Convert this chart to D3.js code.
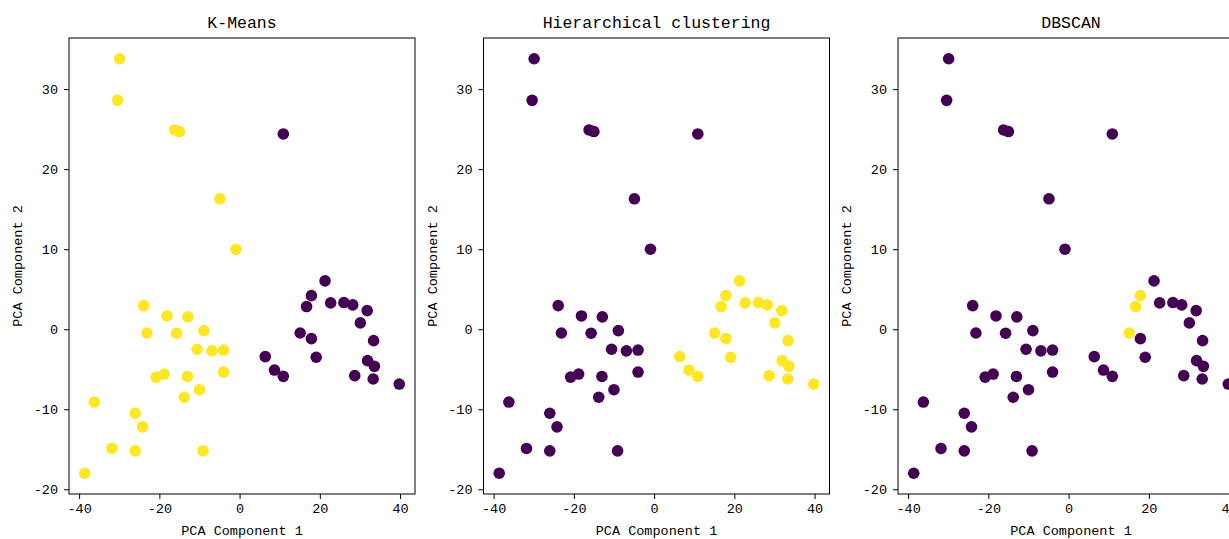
<!DOCTYPE html>
<html>
<head>
<meta charset="utf-8">
<script src="https://cdn.jsdelivr.net/npm/d3@7"></script>
<style>
  body { margin: 0; background: #fff; }
  text { font-family: "Liberation Mono", "DejaVu Sans Mono", monospace; fill: #000; }
</style>
</head>
<body>
<div id="chart"></div>
<script>
// PCA coordinates
const pcaX = [
    -29.9, -30.4, -16.2, -15.0, 10.9, -4.9, -0.9,
    -23.9, -18.1, -12.9, -23.1, -15.7, -8.9, -10.6, -6.9, -4.0, -4.0, -20.8,
    -18.8, -13.0, -10.0, -13.8, -36.2, -26.0, -24.2, -31.8, -26.0, -9.1, -38.6,
    21.3, 17.9, 16.7, 22.7, 26.0, 28.2, 31.8, 30.1, 15.1, 17.9,
    33.4, 6.4, 19.1, 31.9, 33.6, 8.7, 10.9, 28.7, 33.3, 39.8
];
const pcaY = [
    33.8, 28.6, 24.9, 24.7, 24.4, 16.3, 10.0,
    2.95, 1.66, 1.54, -0.47, -0.5, -0.17, -2.5, -2.7, -2.6, -5.35, -5.98,
    -5.6, -5.9, -7.56, -8.5, -9.1, -10.5, -12.2, -14.9, -15.2, -15.2, -18.0,
    6.04, 4.2, 2.83, 3.29, 3.33, 3.04, 2.33, 0.79, -0.47, -1.18,
    -1.43, -3.43, -3.5, -3.93, -4.64, -5.1, -5.89, -5.8, -6.22, -6.85
];

const kmeansLabels = [
    1, 1, 1, 1, 0, 1, 1,
    1, 1, 1, 1, 1, 1, 1, 1, 1, 1, 1,
    1, 1, 1, 1, 1, 1, 1, 1, 1, 1, 1,
    0, 0, 0, 0, 0, 0, 0, 0, 0, 0,
    0, 0, 0, 0, 0, 0, 0, 0, 0, 0
];
const hierLabels = [
    0, 0, 0, 0, 0, 0, 0,
    0, 0, 0, 0, 0, 0, 0, 0, 0, 0, 0,
    0, 0, 0, 0, 0, 0, 0, 0, 0, 0, 0,
    1, 1, 1, 1, 1, 1, 1, 1, 1, 1,
    1, 1, 1, 1, 1, 1, 1, 1, 1, 1
];
const dbscanLabels = [
    0, 0, 0, 0, 0, 0, 0,
    0, 0, 0, 0, 0, 0, 0, 0, 0, 0, 0,
    0, 0, 0, 0, 0, 0, 0, 0, 0, 0, 0,
    0, 1, 1, 0, 0, 0, 0, 0, 1, 0,
    0, 0, 0, 0, 0, 0, 0, 0, 0, 0
];

const titles = ["K-Means", "Hierarchical clustering", "DBSCAN"];
const labelSets = [kmeansLabels, hierLabels, dbscanLabels];
const xTicks = [-40, -20, 0, 20, 40];
const yTicks = [-20, -10, 0, 10, 20, 30];

const W = 1229, H = 539;
const panelLeft = [69, 483.5, 898];
const panelTop = 38, pw = 346, ph = 456;

const svg = d3.select("#chart")
    .append("svg")
    .attr("width", W)
    .attr("height", H);

// matplotlib-style 5% margins
function padded(vals) {
    const [lo, hi] = d3.extent(vals);
    const m = (hi - lo) * 0.05;
    return [lo - m, hi + m];
}

const x = d3.scaleLinear().domain(padded(pcaX)).range([0, pw]);
const y = d3.scaleLinear().domain(padded(pcaY)).range([ph, 0]);

const points = pcaX.map((v, i) => ({x: v, y: pcaY[i], i: i}));

titles.forEach(function (title, k) {
    const labels = labelSets[k];
    const color = d3.scaleSequential(d3.interpolateViridis)
        .domain(d3.extent(labels));

    const g = svg.append("g")
        .attr("transform", `translate(${panelLeft[k]}, ${panelTop})`);

    g.selectAll("circle")
        .data(points)
        .enter()
        .append("circle")
        .attr("cx", function (d) { return x(d.x); })
        .attr("cy", function (d) { return y(d.y); })
        .attr("r", 5.8)
        .style("fill", function (d) { return color(labels[d.i]); });

    const xAxis = g.append("g")
        .attr("transform", `translate(0, ${ph})`)
        .call(d3.axisBottom(x).tickValues(xTicks).tickSize(5).tickPadding(4)
            .tickFormat(d => String(d)));
    const yAxis = g.append("g")
        .call(d3.axisLeft(y).tickValues(yTicks).tickSize(5).tickPadding(6)
            .tickFormat(d => String(d)));

    [xAxis, yAxis].forEach(function (a) {
        a.select(".domain").remove();
        a.selectAll("text").style("font-size", "13.5px")
            .style("font-family", "'Liberation Mono', monospace").attr("fill", "#000");
        a.selectAll("line").attr("stroke", "#000");
    });

    g.append("rect")
        .attr("width", pw)
        .attr("height", ph)
        .attr("fill", "none")
        .attr("stroke", "#000")
        .attr("stroke-width", 1);

    g.append("text")
        .attr("x", pw / 2)
        .attr("y", -10)
        .attr("text-anchor", "middle")
        .style("font-size", "16.5px")
        .text(title);

    g.append("text")
        .attr("x", pw / 2)
        .attr("y", ph + 41)
        .attr("text-anchor", "middle")
        .style("font-size", "13.5px")
        .text("PCA Component 1");

    g.append("text")
        .attr("transform", `translate(-47, ${ph / 2}) rotate(-90)`)
        .attr("text-anchor", "middle")
        .style("font-size", "13.5px")
        .text("PCA Component 2");
});
</script>
</body>
</html>
